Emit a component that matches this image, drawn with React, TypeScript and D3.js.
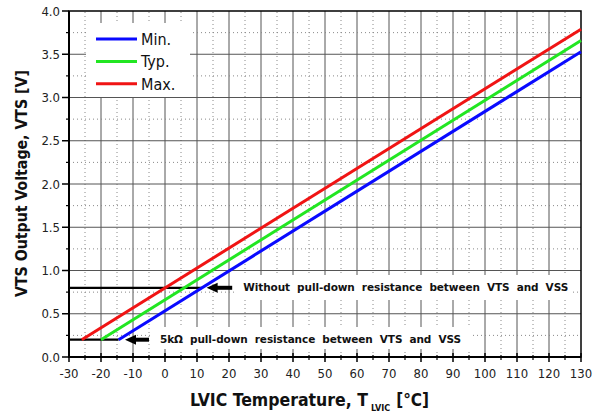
import React, { useEffect, useRef } from 'react';
import * as d3 from 'd3';

// temperature axis (deg C) and output voltage axis (V)
const xTicks = [-30, -20, -10, 0, 10, 20, 30, 40, 50, 60, 70, 80, 90, 100, 110, 120, 130];
const yTicks = [0.0, 0.5, 1.0, 1.5, 2.0, 2.5, 3.0, 3.5, 4.0];

// VTS characteristic lines: [temperature, voltage]
const minSeries: [number, number][] = [[-14.5, 0.2], [130, 3.53]];
const typSeries: [number, number][] = [[-20, 0.2], [130, 3.66]];
const maxSeries: [number, number][] = [[-26, 0.2], [130, 3.79]];

const seriesNames = ['Min.', 'Typ.', 'Max.'];
const seriesColors = ['#0a0aff', '#22e622', '#f01414'];

// horizontal reference levels: voltage, end temperature, arrow tip, arrow tail
const refLevels = [
  { v: 0.8, tEnd: 11.5, tip: 13, tail: 21 },
  { v: 0.2, tEnd: -14.5, tip: -12.5, tail: -5 },
];
const refNotes = [
  'Without  pull-down  resistance  between  VTS  and  VSS',
  '5k\u03a9  pull-down  resistance  between  VTS  and  VSS',
];

const W = 600;
const H = 414;
const margin = { top: 11, right: 19, bottom: 57, left: 69 };

export default function App() {
  const ref = useRef<SVGSVGElement>(null);

  useEffect(() => {
    const svg = d3.select(ref.current);
    svg.selectAll('*').remove();

    const x = d3.scaleLinear().domain([-30, 130]).range([margin.left, W - margin.right]);
    const y = d3.scaleLinear().domain([0, 4]).range([H - margin.bottom, margin.top]);
    const [x0, x1] = x.range();
    const [y0, y1] = y.range();

    const font = '"DejaVu Sans Condensed", "DejaVu Sans", sans-serif';

    svg.append('rect').attr('width', W).attr('height', H).attr('fill', '#fff');

    // grid
    const grid = svg.append('g');
    xTicks.slice(1, -1).forEach(t => {
      grid.append('line').attr('x1', x(t)).attr('x2', x(t)).attr('y1', y0).attr('y2', y1)
        .attr('stroke', '#555').attr('stroke-width', 1);
    });
    xTicks.slice(0, -1).forEach(t => {
      grid.append('line').attr('x1', x(t + 5)).attr('x2', x(t + 5)).attr('y1', y0).attr('y2', y1)
        .attr('stroke', '#888').attr('stroke-width', 1).attr('stroke-dasharray', '1,3');
    });
    yTicks.slice(1, -1).forEach(v => {
      grid.append('line').attr('x1', x0).attr('x2', x1).attr('y1', y(v)).attr('y2', y(v))
        .attr('stroke', '#555').attr('stroke-width', 1);
    });
    yTicks.slice(0, -1).forEach(v => {
      grid.append('line').attr('x1', x0).attr('x2', x1).attr('y1', y(v + 0.25)).attr('y2', y(v + 0.25))
        .attr('stroke', '#888').attr('stroke-width', 1).attr('stroke-dasharray', '1,3');
    });

    // white boxes behind legend and notes
    svg.append('rect').attr('x', 86).attr('y', 23).attr('width', 104).attr('height', 74).attr('fill', '#fff');
    svg.append('rect').attr('x', 237).attr('y', 275).attr('width', 336).attr('height', 25).attr('fill', '#fff');
    svg.append('rect').attr('x', 153).attr('y', 327).attr('width', 318).attr('height', 22).attr('fill', '#fff');

    // axes frame
    svg.append('rect').attr('x', x0).attr('y', y1).attr('width', x1 - x0).attr('height', y0 - y1)
      .attr('fill', 'none').attr('stroke', '#000').attr('stroke-width', 1.5);
    svg.append('line').attr('x1', x0).attr('x2', x0).attr('y1', y1).attr('y2', y0 + 1)
      .attr('stroke', '#000').attr('stroke-width', 2);
    svg.append('line').attr('x1', x0 - 1).attr('x2', x1).attr('y1', y0).attr('y2', y0)
      .attr('stroke', '#000').attr('stroke-width', 2);

    // x ticks
    xTicks.forEach(t => {
      svg.append('line').attr('x1', x(t)).attr('x2', x(t)).attr('y1', y0 - 4).attr('y2', y0 + 5)
        .attr('stroke', '#000').attr('stroke-width', 1.5);
      svg.append('text').attr('x', x(t)).attr('y', y0 + 21).attr('text-anchor', 'middle')
        .attr('font-family', font).attr('font-size', 13).attr('fill', '#222').text(t);
    });
    xTicks.slice(0, -1).forEach(t => {
      svg.append('line').attr('x1', x(t + 5)).attr('x2', x(t + 5)).attr('y1', y0 - 2).attr('y2', y0 + 3)
        .attr('stroke', '#000').attr('stroke-width', 1.2);
    });
    // y ticks
    yTicks.forEach(v => {
      svg.append('line').attr('x1', x0 - 7).attr('x2', x0).attr('y1', y(v)).attr('y2', y(v))
        .attr('stroke', '#000').attr('stroke-width', 1.5);
      svg.append('text').attr('x', x0 - 9).attr('y', y(v) + 4.5).attr('text-anchor', 'end')
        .attr('font-family', font).attr('font-size', 13).attr('fill', '#222').text(v.toFixed(1));
    });
    yTicks.slice(0, -1).forEach(v => {
      svg.append('line').attr('x1', x0 - 3).attr('x2', x0).attr('y1', y(v + 0.25)).attr('y2', y(v + 0.25))
        .attr('stroke', '#000').attr('stroke-width', 1.2);
    });

    // reference levels and arrows
    refLevels.forEach((r, i) => {
      svg.append('line').attr('x1', x0).attr('x2', x(r.tEnd)).attr('y1', y(r.v)).attr('y2', y(r.v))
        .attr('stroke', '#000').attr('stroke-width', 2.2);
      const tip = x(r.tip);
      const tail = x(r.tail);
      const yy = y(r.v);
      svg.append('line').attr('x1', tip + 9).attr('x2', tail).attr('y1', yy).attr('y2', yy)
        .attr('stroke', '#000').attr('stroke-width', 4);
      svg.append('path')
        .attr('d', `M${tip},${yy} L${tip + 11},${yy - 5} L${tip + 11},${yy + 5} Z`)
        .attr('fill', '#000');
      svg.append('text').attr('x', tail + 11).attr('y', yy + 3.5)
        .attr('font-family', '"DejaVu Sans", sans-serif').attr('font-weight', 'bold')
        .attr('font-size', 10.5).attr('fill', '#111')
        .attr('textLength', i === 0 ? 325 : 301).attr('lengthAdjust', 'spacing')
        .attr('xml:space', 'preserve')
        .text(refNotes[i]);
    });

    // series lines
    const line = d3.line<[number, number]>().x(d => x(d[0])).y(d => y(d[1]));
    [minSeries, typSeries, maxSeries].forEach((s, i) => {
      svg.append('path').attr('d', line(s)).attr('fill', 'none')
        .attr('stroke', seriesColors[i]).attr('stroke-width', 3);
    });

    // legend
    seriesNames.forEach((name, i) => {
      const ly = 39 + i * 22.4;
      svg.append('line').attr('x1', 96).attr('x2', 137).attr('y1', ly).attr('y2', ly)
        .attr('stroke', seriesColors[i]).attr('stroke-width', 3);
      svg.append('text').attr('x', 141).attr('y', ly + 6).attr('font-family', font)
        .attr('font-size', 16).attr('fill', '#111').text(name);
    });

    // axis titles
    const xt = svg.append('text').attr('x', 190).attr('y', 406).attr('font-family', font)
      .attr('font-weight', 'bold').attr('font-size', 17).attr('fill', '#111');
    xt.append('tspan').attr('textLength', 178).attr('lengthAdjust', 'spacingAndGlyphs')
      .text('LVIC Temperature, T');
    xt.append('tspan').attr('dx', 3).attr('dy', 5).attr('font-size', 9).text('LVIC');
    xt.append('tspan').attr('dx', 6).attr('dy', -5).text('[\u00b0C]');

    svg.append('text').attr('transform', `translate(27,183.5) rotate(-90)`).attr('text-anchor', 'middle')
      .attr('font-family', font).attr('font-weight', 'bold').attr('font-size', 16).attr('fill', '#111')
      .attr('textLength', 227).attr('lengthAdjust', 'spacingAndGlyphs')
      .text('VTS Output Voltage, VTS [V]');
  }, []);

  return (
    <svg ref={ref} width={W} height={H}
      style={{ position: 'absolute', left: 0, top: 0, display: 'block' }} />
  );
}
